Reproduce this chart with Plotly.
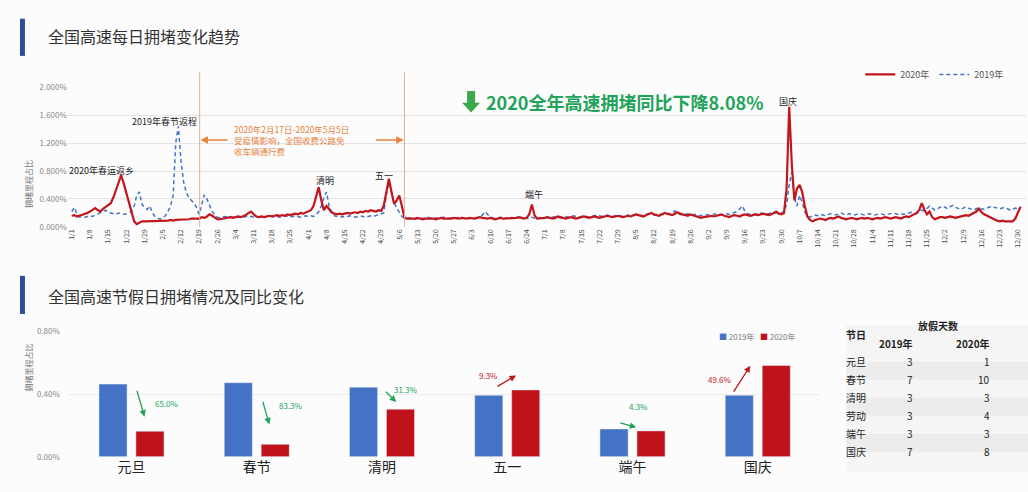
import plotly.graph_objects as go

W, H = 1028, 492
FONT = "Noto Sans CJK SC"

# ---------------- data: daily congestion ratio (%) ----------------
jan_2020 = [0.16,0.17,0.15,0.16,0.18,0.19,0.20,0.22,0.25,0.27,0.24,0.22,0.26,0.29,0.31,0.34,0.42,0.52,0.63,0.74,0.62,0.48,0.34,0.20,0.08,0.04,0.06,0.08,0.08,0.08,0.08]
feb_2020 = [0.08,0.09,0.08,0.09,0.09,0.08,0.09,0.10,0.09,0.10,0.10,0.11,0.10,0.11,0.11,0.12,0.12,0.13,0.12,0.14,0.13,0.15,0.18,0.16,0.13,0.11,0.11,0.12,0.13]
mar_2020 = [0.13,0.14,0.13,0.14,0.15,0.14,0.15,0.17,0.20,0.22,0.18,0.15,0.14,0.15,0.14,0.15,0.16,0.15,0.16,0.17,0.16,0.17,0.16,0.18,0.17,0.18,0.19,0.18,0.20,0.19,0.21]
apr_2020 = [0.22,0.24,0.30,0.45,0.57,0.38,0.24,0.30,0.26,0.21,0.19,0.18,0.19,0.18,0.19,0.20,0.19,0.20,0.21,0.20,0.22,0.21,0.23,0.22,0.24,0.23,0.22,0.24,0.23,0.30]
may_2020 = [0.48,0.69,0.50,0.33,0.38,0.45,0.30,0.13,0.12,0.12,0.11,0.12,0.13,0.12,0.11,0.12,0.12,0.13,0.12,0.11,0.12,0.13,0.12,0.12,0.11,0.12,0.13,0.12,0.12,0.13,0.12]
jun_2020 = [0.12,0.13,0.12,0.12,0.13,0.14,0.13,0.12,0.12,0.13,0.12,0.11,0.12,0.13,0.12,0.12,0.13,0.12,0.12,0.13,0.14,0.13,0.12,0.13,0.18,0.32,0.17,0.12,0.12,0.13]
jul_2020 = [0.13,0.14,0.13,0.12,0.13,0.15,0.14,0.13,0.12,0.13,0.14,0.13,0.12,0.13,0.14,0.15,0.14,0.13,0.14,0.15,0.14,0.13,0.14,0.15,0.16,0.15,0.14,0.15,0.16,0.15,0.14]
aug_2020 = [0.15,0.16,0.15,0.17,0.18,0.17,0.16,0.15,0.17,0.19,0.20,0.18,0.17,0.16,0.18,0.20,0.19,0.18,0.17,0.19,0.21,0.19,0.18,0.17,0.16,0.18,0.17,0.16,0.15,0.13,0.14]
sep_2020 = [0.14,0.15,0.16,0.15,0.16,0.17,0.18,0.16,0.15,0.14,0.16,0.17,0.16,0.15,0.17,0.18,0.17,0.16,0.17,0.18,0.17,0.18,0.19,0.18,0.17,0.18,0.20,0.22,0.19,0.18]
oct_2020 = [0.20,0.55,1.72,0.90,0.38,0.55,0.60,0.50,0.30,0.15,0.10,0.08,0.10,0.11,0.12,0.11,0.10,0.12,0.13,0.12,0.14,0.15,0.13,0.12,0.11,0.12,0.13,0.12,0.11,0.12,0.13]
nov_2020 = [0.12,0.13,0.12,0.11,0.12,0.13,0.12,0.13,0.14,0.13,0.12,0.13,0.14,0.13,0.12,0.14,0.15,0.14,0.16,0.18,0.20,0.24,0.34,0.25,0.18,0.22,0.14,0.11,0.13,0.14]
dec_2020 = [0.14,0.13,0.14,0.15,0.14,0.13,0.14,0.15,0.16,0.17,0.16,0.18,0.20,0.22,0.26,0.21,0.18,0.16,0.14,0.12,0.10,0.09,0.08,0.09,0.08,0.08,0.09,0.08,0.12,0.20,0.29]

jan_2019 = [0.22,0.28,0.18,0.14,0.15,0.14,0.15,0.16,0.15,0.17,0.18,0.20,0.22,0.24,0.21,0.20,0.19,0.18,0.20,0.19,0.18,0.19,0.20,0.22,0.30,0.45,0.50,0.32,0.28,0.25,0.30]
feb_2019 = [0.20,0.15,0.13,0.11,0.13,0.16,0.22,0.30,0.45,1.20,1.44,0.95,0.65,0.50,0.42,0.38,0.34,0.28,0.18,0.32,0.46,0.40,0.32,0.22,0.17,0.14,0.13,0.14,0.15]
mar_2019 = [0.14,0.15,0.14,0.13,0.14,0.15,0.14,0.15,0.16,0.15,0.14,0.15,0.14,0.13,0.14,0.15,0.16,0.15,0.14,0.15,0.14,0.15,0.16,0.15,0.14,0.15,0.16,0.15,0.14,0.15,0.16]
apr_2019 = [0.15,0.16,0.15,0.17,0.22,0.30,0.42,0.50,0.30,0.20,0.16,0.15,0.14,0.15,0.14,0.15,0.16,0.15,0.14,0.15,0.16,0.15,0.14,0.15,0.16,0.15,0.16,0.17,0.18,0.20]
may_2019 = [0.45,0.64,0.50,0.35,0.27,0.20,0.15,0.13,0.12,0.13,0.12,0.11,0.12,0.13,0.12,0.13,0.14,0.13,0.12,0.13,0.12,0.13,0.14,0.13,0.12,0.13,0.12,0.13,0.14,0.13,0.12]
jun_2019 = [0.13,0.12,0.13,0.14,0.13,0.15,0.17,0.22,0.18,0.14,0.13,0.12,0.13,0.14,0.13,0.12,0.13,0.14,0.13,0.12,0.13,0.14,0.13,0.12,0.13,0.14,0.13,0.14,0.13,0.12]
jul_2019 = [0.13,0.14,0.13,0.14,0.15,0.14,0.13,0.14,0.15,0.14,0.15,0.16,0.15,0.14,0.15,0.16,0.15,0.14,0.15,0.16,0.17,0.16,0.15,0.16,0.17,0.16,0.15,0.16,0.17,0.16,0.15]
aug_2019 = [0.16,0.17,0.16,0.17,0.18,0.17,0.16,0.17,0.18,0.19,0.18,0.17,0.18,0.19,0.18,0.17,0.18,0.19,0.20,0.23,0.19,0.18,0.17,0.18,0.19,0.18,0.17,0.18,0.17,0.16,0.17]
sep_2019 = [0.17,0.18,0.17,0.18,0.19,0.18,0.17,0.18,0.19,0.18,0.19,0.20,0.22,0.26,0.30,0.22,0.19,0.18,0.19,0.18,0.19,0.20,0.19,0.18,0.19,0.20,0.19,0.20,0.21,0.20]
oct_2019 = [0.22,0.32,0.60,0.78,0.42,0.30,0.45,0.35,0.22,0.15,0.14,0.16,0.17,0.16,0.18,0.17,0.16,0.18,0.19,0.18,0.17,0.19,0.20,0.18,0.17,0.19,0.18,0.17,0.18,0.19,0.18]
nov_2019 = [0.17,0.18,0.19,0.18,0.17,0.18,0.19,0.18,0.17,0.18,0.19,0.20,0.19,0.18,0.19,0.18,0.19,0.20,0.21,0.20,0.19,0.22,0.24,0.23,0.26,0.30,0.27,0.24,0.26,0.28]
dec_2019 = [0.30,0.28,0.26,0.29,0.31,0.28,0.26,0.25,0.27,0.29,0.27,0.25,0.24,0.26,0.28,0.26,0.25,0.27,0.28,0.30,0.28,0.27,0.26,0.27,0.28,0.26,0.24,0.25,0.27,0.26,0.25]

series_2020 = jan_2020 + feb_2020 + mar_2020 + apr_2020 + may_2020 + jun_2020 + jul_2020 + aug_2020 + sep_2020 + oct_2020 + nov_2020 + dec_2020
series_2019 = jan_2019 + feb_2019 + mar_2019 + apr_2019 + may_2019 + jun_2019 + jul_2019 + aug_2019 + sep_2019 + oct_2019 + nov_2019 + dec_2019
day_index = list(range(len(series_2020)))

date_tick_pos = list(range(0, 366, 7))
date_tick_labels = ["1/1","1/8","1/15","1/22","1/29","2/5","2/12","2/19","2/26","3/4","3/11","3/18","3/25",
                    "4/1","4/8","4/15","4/22","4/29","5/6","5/13","5/20","5/27","6/3","6/10","6/17","6/24",
                    "7/1","7/8","7/15","7/22","7/29","8/5","8/12","8/19","8/26","9/2","9/9","9/16","9/23","9/30",
                    "10/7","10/14","10/21","10/28","11/4","11/11","11/18","11/25","12/2","12/9","12/16","12/23","12/30"]
top_y_ticks = [0, 0.4, 0.8, 1.2, 1.6, 2.0]
top_y_labels = ["0.000%", "0.400%", "0.800%", "1.200%", "1.600%", "2.000%"]

# ---------------- data: holidays ----------------
holidays = ["元旦", "春节", "清明", "五一", "端午", "国庆"]
holiday_2019 = [0.464, 0.473, 0.444, 0.392, 0.177, 0.392]
holiday_2020 = [0.163, 0.079, 0.304, 0.427, 0.165, 0.583]
change_labels = ["65.0%", "83.3%", "31.3%", "9.3%", "4.3%", "49.6%"]
bot_y_ticks = [0, 0.4, 0.8]
bot_y_labels = ["0.00%", "0.40%", "0.80%"]

table_names = ["元旦", "春节", "清明", "劳动", "端午", "国庆"]
days_off_2019 = [3, 7, 3, 3, 3, 7]
days_off_2020 = [1, 10, 3, 4, 3, 8]


def px(x):
    return x / W


def py(y):
    return 1 - y / H


RED = "#c3151c"
BAR_RED = "#c0121b"
BLUE = "#4472c4"
GREEN = "#22a35a"
ORANGE = "#e8823c"

fig = go.Figure()
fig.add_trace(go.Scatter(x=day_index, y=series_2019, mode="lines", name="2019年",
                         line=dict(color=BLUE, width=1.5, dash="4px,3px"), legendrank=2))
fig.add_trace(go.Scatter(x=day_index, y=series_2020, mode="lines", name="2020年",
                         line=dict(color=RED, width=2.2), legendrank=1))
fig.add_trace(go.Bar(x=holidays, y=holiday_2019, name="2019年", marker_color=BLUE,
                     xaxis="x2", yaxis="y2", showlegend=False))
fig.add_trace(go.Bar(x=holidays, y=holiday_2020, name="2020年", marker_color=BAR_RED,
                     xaxis="x2", yaxis="y2", showlegend=False))

ann = []
shapes = []

# headings
for (y0, y1, ty, txt) in [(13, 51, 31, "全国高速每日拥堵变化趋势"), (276, 315, 297, "全国高速节假日拥堵情况及同比变化")]:
    shapes.append(dict(type="rect", xref="paper", yref="paper", x0=px(18), x1=px(23), y0=py(y1), y1=py(y0),
                       fillcolor="#2e4c9c", line=dict(width=0)))
    ann.append(dict(text=txt, xref="paper", yref="paper", x=px(44), y=py(ty), xanchor="left", yanchor="middle",
                    showarrow=False, font=dict(size=16, color="#333333", family=FONT)))

# y-axis titles
ann.append(dict(text="拥堵里程占比", xref="paper", yref="paper", x=px(19), y=py(155), textangle=-90,
                showarrow=False, font=dict(size=8, color="#777777")))
ann.append(dict(text="拥堵里程占比", xref="paper", yref="paper", x=px(19), y=py(396), textangle=-90,
                showarrow=False, font=dict(size=8, color="#777777")))

# top chart event labels
for (xv, yv, txt) in [(35.7, 1.51, "2019年春节返程"), (11.5, 0.81, "2020年春运返乡"), (26.0, -0.04, "2020年春节"),
                      (97.3, 0.67, "清明"), (120.3, 0.74, "五一"), (177.8, 0.46, "端午"), (275.5, 1.79, "国庆")]:
    ann.append(dict(text=txt, x=xv, y=yv, xref="x", yref="y", showarrow=False,
                    font=dict(size=9, color="#222222")))

# toll-free period markers
for xv in [49.2, 128.0]:
    shapes.append(dict(type="line", xref="x", yref="paper", x0=xv, x1=xv, y0=py(226), y1=py(68),
                       line=dict(color="#d8b596", width=1)))
ann.append(dict(text="", x=49.5, y=1.245, ax=60.5, ay=1.245, xref="x", yref="y", axref="x", ayref="y",
                showarrow=True, arrowhead=2, arrowsize=1, arrowwidth=1.5, arrowcolor=ORANGE))
ann.append(dict(text="", x=127.7, y=1.245, ax=116.5, ay=1.245, xref="x", yref="y", axref="x", ayref="y",
                showarrow=True, arrowhead=2, arrowsize=1, arrowwidth=1.5, arrowcolor=ORANGE))
ann.append(dict(text="2020年2月17日-2020年5月5日<br>受疫情影响，全国收费公路免<br>收车辆通行费",
                x=61.6, y=1.245, xref="x", yref="y", xanchor="left", yanchor="middle", align="left",
                showarrow=False, font=dict(size=8.5, color=ORANGE)))

# green headline
arrow_pts = [(466, 87), (474, 87), (474, 99), (479, 99), (470, 109), (461, 99), (466, 99)]
path = "M " + " L ".join(f"{px(a):.5f},{py(b):.5f}" for a, b in arrow_pts) + " Z"
shapes.append(dict(type="path", xref="paper", yref="paper", path=path, fillcolor="#3da94a", line=dict(width=0)))
ann.append(dict(text="<b>2020全年高速拥堵同比下降8.08%</b>", xref="paper", yref="paper", x=px(483), y=py(98),
                xanchor="left", yanchor="middle", showarrow=False, font=dict(size=18, color=GREEN, family=FONT)))

# holiday change arrows
arrows = [((0.04, 0.431), (0.104, 0.256), (0.28, 0.34), GREEN),
          ((1.045, 0.362), (1.10, 0.206), (1.276, 0.325), GREEN),
          ((2.018, 0.425), (2.113, 0.35), (2.19, 0.431), GREEN),
          ((2.91, 0.444), (3.07, 0.519), (2.85, 0.519), RED),
          ((3.89, 0.219), (4.03, 0.1875), (4.05, 0.319), GREEN),
          ((4.80, 0.406), (4.94, 0.581), (4.70, 0.494), RED)]
for (tail, head, lab, col), txt in zip(arrows, change_labels):
    ann.append(dict(text="", x=head[0], y=head[1], ax=tail[0], ay=tail[1], xref="x2", yref="y2",
                    axref="x2", ayref="y2", showarrow=True, arrowhead=2, arrowsize=1, arrowwidth=1.3,
                    arrowcolor=col))
    ann.append(dict(text=txt, x=lab[0], y=lab[1], xref="x2", yref="y2", showarrow=False,
                    font=dict(size=8, color=col)))

# bar legend (small squares)
ann.append(dict(text=f"<span style='color:{BLUE}'>■</span> 2019年   <span style='color:{BAR_RED}'>■</span> 2020年",
                xref="paper", yref="paper", x=px(716), y=py(338), xanchor="left", yanchor="middle",
                showarrow=False, font=dict(size=8, color="#777777")))

# table
shapes.append(dict(type="rect", xref="paper", yref="paper", x0=px(846), x1=px(1028), y0=py(477), y1=py(326),
                   fillcolor="#f5f5f5", line=dict(width=0)))
row_y = [373, 391.5, 410, 428.5, 447, 465.5]
for i, ry in enumerate(row_y):
    if i % 2 == 0:
        shapes.append(dict(type="rect", xref="paper", yref="paper", x0=px(846), x1=px(1028),
                           y0=py(ry + 9.2), y1=py(ry - 9.2), fillcolor="#ececec", line=dict(width=0)))
hdr = dict(size=10, color="#222222", family=FONT)
ann.append(dict(text="<b>节日</b>", xref="paper", yref="paper", x=px(868), y=py(346), showarrow=False, font=hdr))
ann.append(dict(text="<b>放假天数</b>", xref="paper", yref="paper", x=px(960), y=py(337), showarrow=False, font=hdr))
ann.append(dict(text="<b>2019年</b>", xref="paper", yref="paper", x=px(915), y=py(355), showarrow=False, font=hdr))
ann.append(dict(text="<b>2020年</b>", xref="paper", yref="paper", x=px(992), y=py(355), showarrow=False, font=hdr))
cell = dict(size=10, color="#222222", family=FONT)
for name, a, b, ry in zip(table_names, days_off_2019, days_off_2020, row_y):
    ann.append(dict(text=name, xref="paper", yref="paper", x=px(868), y=py(ry), showarrow=False, font=cell))
    ann.append(dict(text=str(a), xref="paper", yref="paper", x=px(915), y=py(ry), showarrow=False, font=cell))
    ann.append(dict(text=str(b), xref="paper", yref="paper", x=px(992), y=py(ry), showarrow=False, font=cell))

fig.update_layout(
    width=W, height=H, autosize=False,
    margin=dict(l=0, r=0, t=0, b=0),
    paper_bgcolor="#fcfcfc", plot_bgcolor="rgba(0,0,0,0)",
    font=dict(family=FONT, color="#444444"),
    showlegend=True,
    bargap=0.41, bargroupgap=0.24,
    xaxis=dict(domain=[px(66), px(1026)], range=[-1.5, 367.1], tickmode="array", tickvals=date_tick_pos,
               ticktext=date_tick_labels, tickangle=-90, tickfont=dict(size=7, color="#444444"),
               showgrid=False, zeroline=False, showline=False, ticks="", anchor="y"),
    yaxis=dict(domain=[py(226), py(83)], range=[0, 2.0], tickmode="array", tickvals=top_y_ticks,
               ticktext=top_y_labels, tickfont=dict(size=8, color="#888888"), gridcolor="#e4e4e4",
               zeroline=False, showline=False, ticks="", anchor="x"),
    xaxis2=dict(domain=[px(67), px(820)], range=[-0.5, 5.5], tickfont=dict(size=14, color="#222222"),
                showgrid=False, zeroline=False, showline=False, ticks="", anchor="y2"),
    yaxis2=dict(domain=[py(461), py(333)], range=[0, 0.8], tickmode="array", tickvals=bot_y_ticks,
                ticktext=bot_y_labels, tickfont=dict(size=8, color="#888888"), gridcolor="#ececec",
                zeroline=False, showline=False, ticks="", anchor="x2", ticklabelstandoff=8),
    legend=dict(orientation="h", x=px(860), y=py(70), xanchor="left", yanchor="middle",
                font=dict(size=9, color="#555555"), bgcolor="rgba(0,0,0,0)", itemwidth=30),
    shapes=shapes,
    annotations=ann,
)

fig.write_html("out.html", config={"displayModeBar": False},
               post_script="document.body.style.margin='0';document.body.style.padding='0';"
                           "document.documentElement.style.overflow='hidden';")
